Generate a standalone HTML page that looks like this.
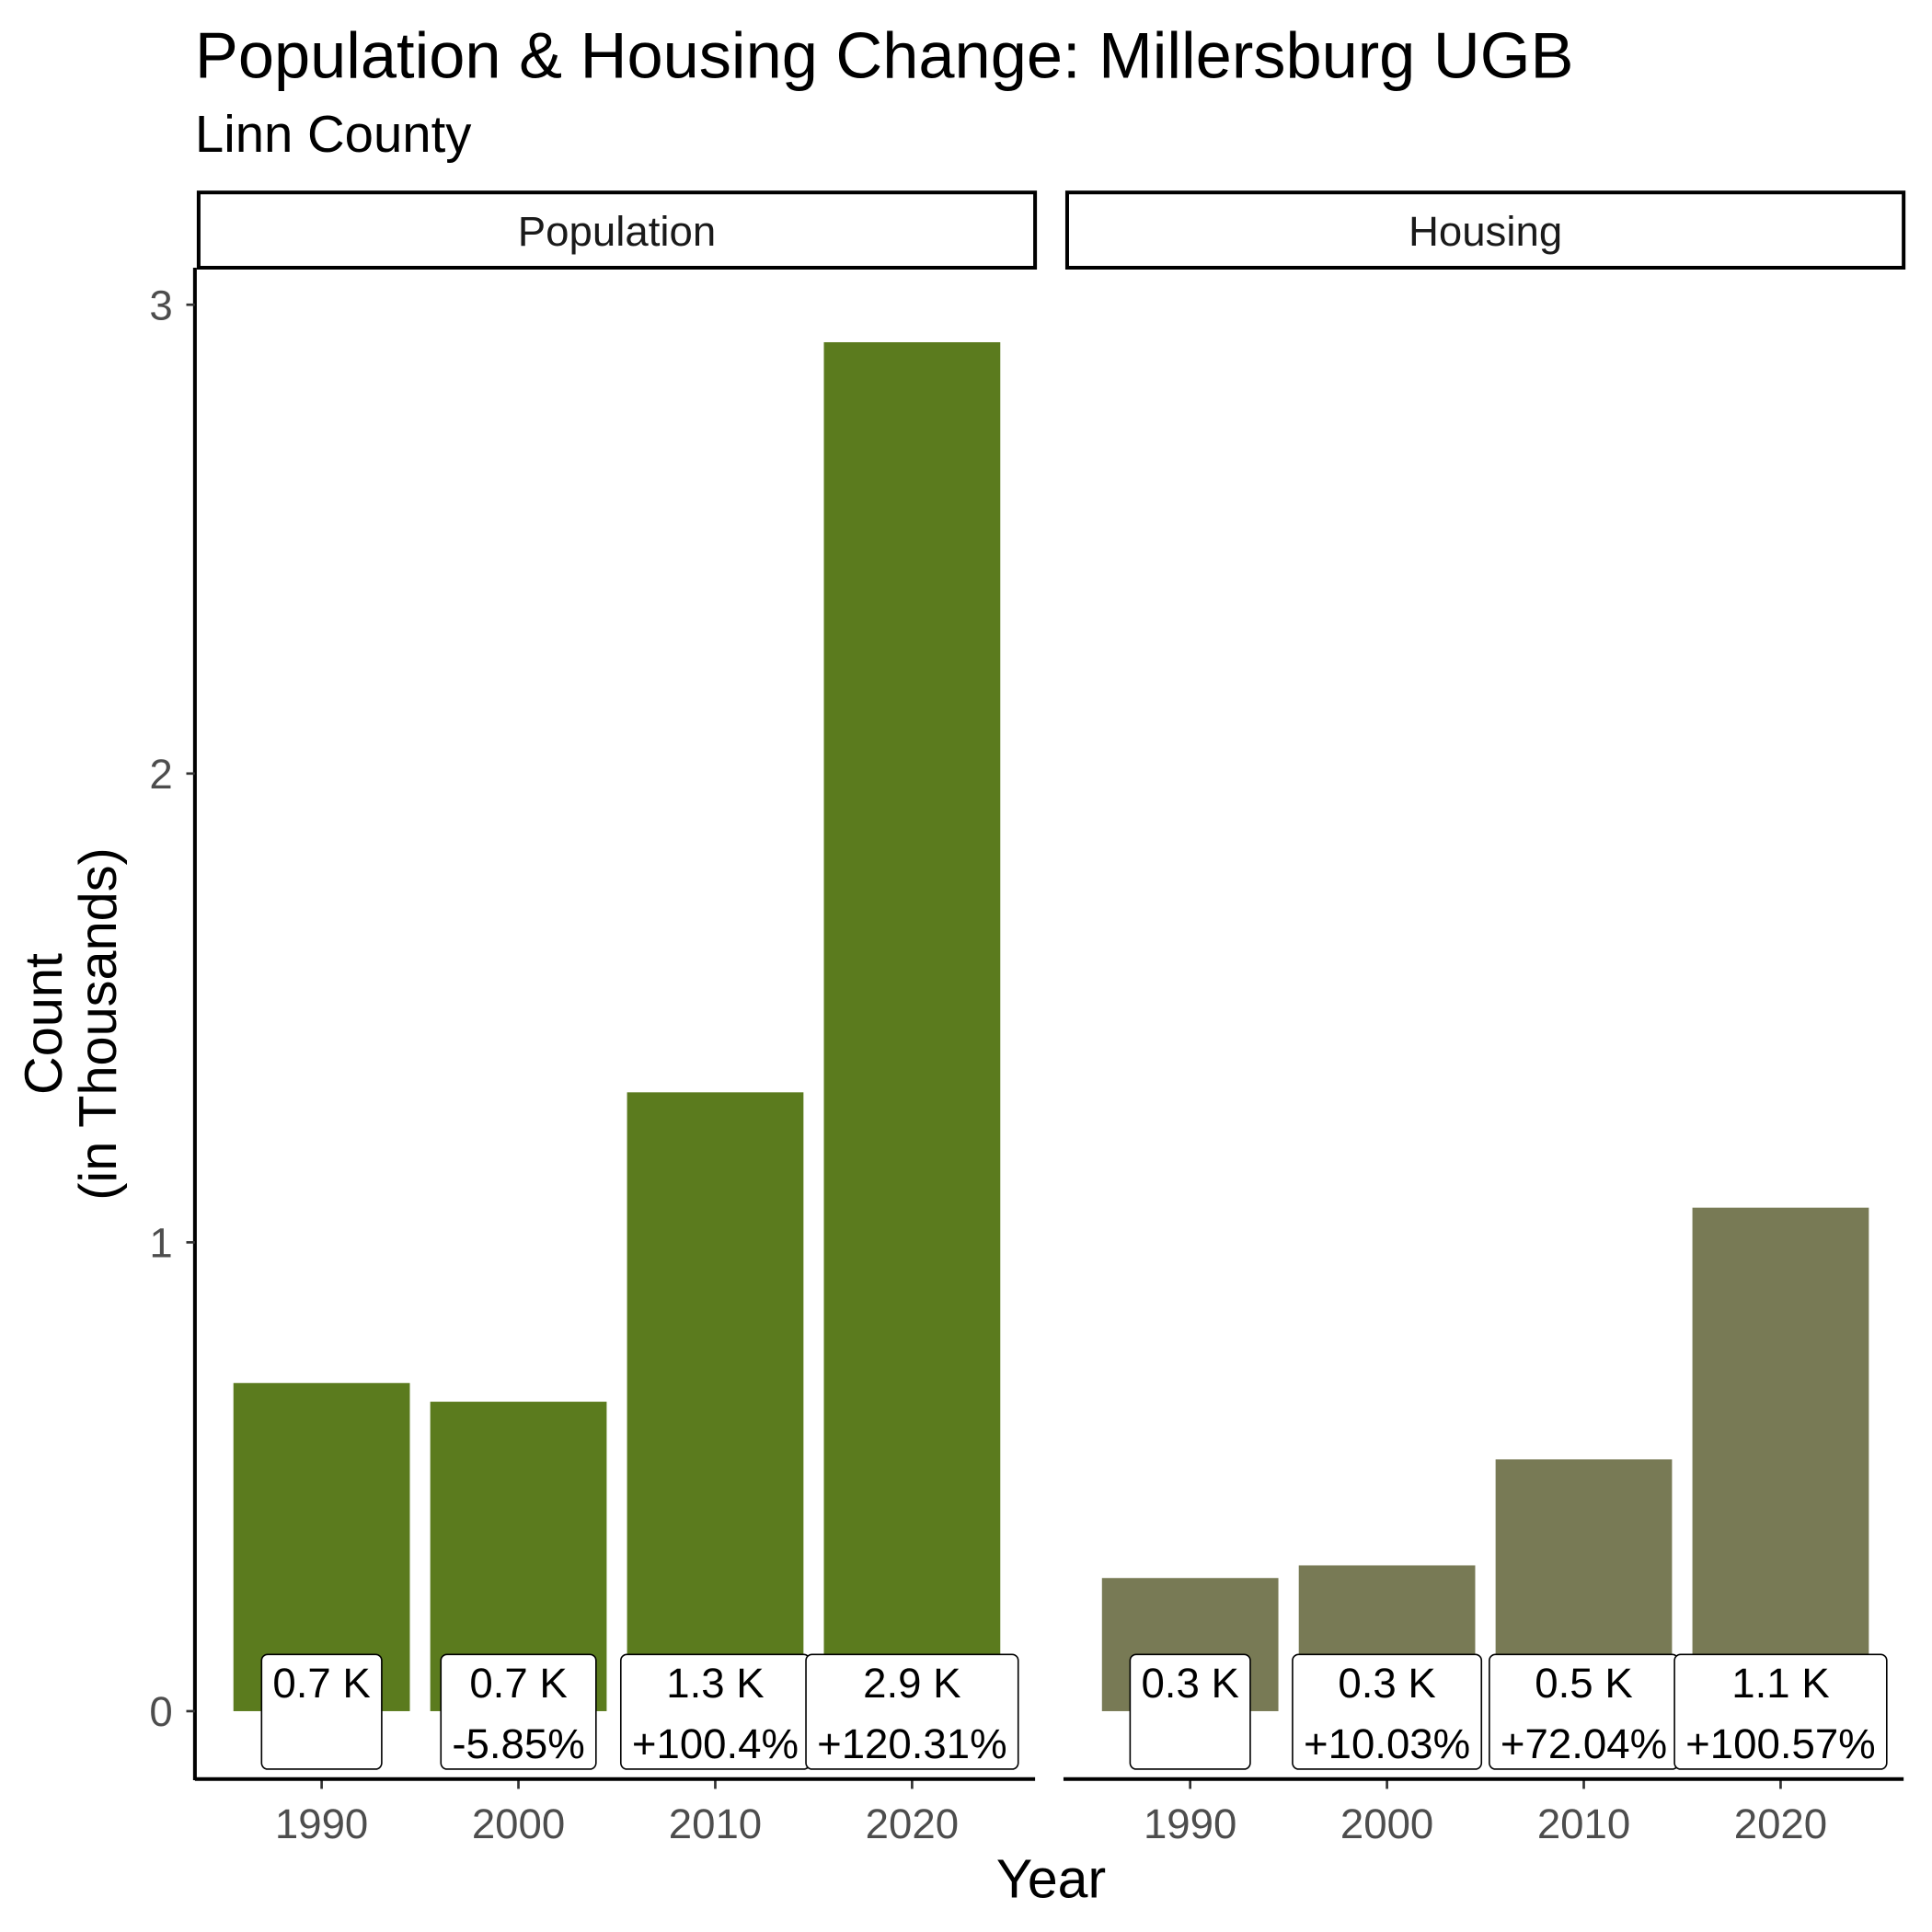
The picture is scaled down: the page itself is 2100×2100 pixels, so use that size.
<!DOCTYPE html>
<html><head><meta charset="utf-8"><style>
html,body{margin:0;padding:0;background:#fff}
svg{display:block}
text{font-family:"Liberation Sans",Arial,sans-serif}
</style></head><body>
<svg id="chart" width="2100" height="2100" viewBox="0 0 1566 1566" xmlns="http://www.w3.org/2000/svg">
<rect width="1566" height="1566" fill="#fff"/>
<text x="158" y="63" font-size="52.5" fill="#000">Population &amp; Housing Change: Millersburg UGB</text>
<text x="158" y="123" font-size="42" fill="#000">Linn County</text>
<g font-size="43" fill="#000" text-anchor="middle">
<text transform="translate(50,830) rotate(-90)">Count</text>
<text transform="translate(94,830) rotate(-90)">(in Thousands)</text>
</g>
<text x="852" y="1538" font-size="44" text-anchor="middle" fill="#000">Year</text>
<g id="plot"></g>
</svg>
<script>
const years = ["1990","2000","2010","2020"];
const popValues = [0.70, 0.66, 1.32, 2.92];
const housingValues = [0.284, 0.311, 0.537, 1.074];
const popLabels = ["0.7 K","0.7 K","1.3 K","2.9 K"];
const popChange = ["","-5.85%","+100.4%","+120.31%"];
const housingLabels = ["0.3 K","0.3 K","0.5 K","1.1 K"];
const housingChange = ["","+10.03%","+72.04%","+100.57%"];
const yTicks = [0,1,2,3];

const NS="http://www.w3.org/2000/svg";
const g=document.getElementById('plot');
function mk(tag,attrs,parent){const e=document.createElementNS(NS,tag);for(const k in attrs)e.setAttribute(k,attrs[k]);(parent||g).appendChild(e);return e;}
const y0=1387, unit=380;
function yScale(v){return y0-v*unit;}
const panels=[
 {name:"population",title:"Population",x0:161,x1:839,vals:popValues,labs:popLabels,chg:popChange,color:"#5b7b1e"},
 {name:"housing",title:"Housing",x0:865,x1:1543,vals:housingValues,labs:housingLabels,chg:housingChange,color:"#787a55"}
];
const bw=143;
panels.forEach((p,pi)=>{
  const step=(p.x1-p.x0)/4.25;
  function xScale(i){return p.x0+step*0.625+i*step;}
  const strip=mk('rect',{x:p.x0,y:156,width:p.x1-p.x0,height:61,fill:'#fff',stroke:'#000','stroke-width':3});
  
  
  const st=mk('text',{x:(p.x0+p.x1)/2,y:199,'font-size':34,'text-anchor':'middle',fill:'#1a1a1a'});
  st.textContent=p.title;
  
  
  p.vals.forEach((v,i)=>{
    const cx=xScale(i);
    const b=mk('rect',{x:cx-bw/2,y:yScale(v),width:bw,height:y0-yScale(v),fill:p.color});
    
    
  });
  p.vals.forEach((v,i)=>{
    const cx=xScale(i);
    const lg=mk('g',{});
    
    
    const r=mk('rect',{y:1341,height:93,rx:5,fill:'#fff',stroke:'#000','stroke-width':1.2},lg);
    const t1=mk('text',{x:cx,y:1376,'font-size':34,'text-anchor':'middle',fill:'#000'},lg);
    t1.textContent=p.labs[i];
    const t2=mk('text',{x:cx,y:1425,'font-size':34,'text-anchor':'middle',fill:'#000'},lg);
    t2.textContent=p.chg[i];
    const w=Math.max(t1.getComputedTextLength(),t2.getComputedTextLength())+18;
    r.setAttribute('x',cx-w/2);r.setAttribute('width',w);
    const tk=mk('line',{x1:cx,x2:cx,y1:1442,y2:1450,stroke:'#333','stroke-width':2});
    
    
    const tl=mk('text',{x:cx,y:1490,'font-size':34,'text-anchor':'middle',fill:'#4d4d4d'});
    tl.textContent=years[i];
    
    
  });
  const ax=mk('line',{x1:p.x0-3,x2:p.x1,y1:1442,y2:1442,stroke:'#000','stroke-width':3});
  
  
});
const ya=mk('line',{x1:158,x2:158,y1:217,y2:1443,stroke:'#000','stroke-width':3});


yTicks.forEach(t=>{
  const y=yScale(t);
  const l=mk('line',{x1:151,x2:158,y1:y,y2:y,stroke:'#333','stroke-width':2});
  
  
  const tx=mk('text',{x:140,y:y+12,'font-size':34,'text-anchor':'end',fill:'#4d4d4d'});
  tx.textContent=String(t);
  
  
});
</script>
</body></html>
